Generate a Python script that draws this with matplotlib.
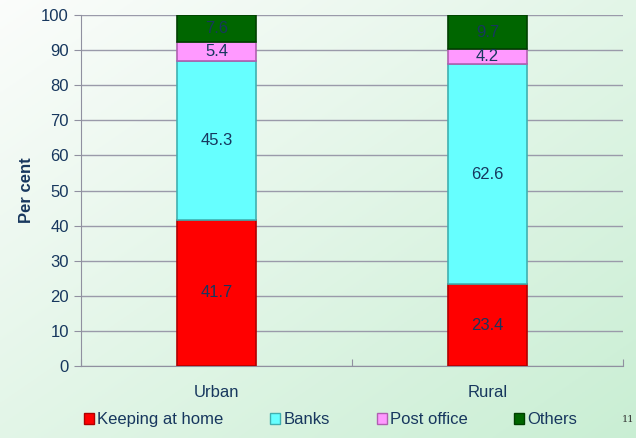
import numpy as np
import matplotlib.pyplot as plt

categories = ['Urban', 'Rural']
series_names = ['Keeping at home', 'Banks', 'Post office', 'Others']
keeping_home = [41.7, 23.4]
banks = [45.3, 62.6]
post_office = [5.4, 4.2]
others = [7.6, 9.7]
yticks = [0, 10, 20, 30, 40, 50, 60, 70, 80, 90, 100]

face_colors = ['#FF0000', '#66FFFF', '#FF99FF', '#006600']
edge_colors = ['#B00000', '#40B0B0', '#B060B0', '#004000']
text_color = '#17375E'

plt.rcParams['font.family'] = ['Liberation Sans', 'DejaVu Sans']

fig = plt.figure(figsize=(6.36, 4.38), dpi=100)

# light green gradient background, white top-left to green bottom-right
bg = fig.add_axes([0, 0, 1, 1], zorder=-10)
yy, xx = np.mgrid[0:1:200j, 0:1:200j]
t = np.clip(0.5 * xx + 0.5 * yy, 0, 1)
c0 = np.array([0.985, 0.99, 0.985])
c1 = np.array([0.79, 0.935, 0.83])
img = c0[None, None, :] * (1 - t[..., None]) + c1[None, None, :] * t[..., None]
bg.imshow(img, extent=[0, 1, 0, 1], aspect='auto', origin='upper')
bg.axis('off')

ax = fig.add_axes([0.127, 0.164, 0.853, 0.802])
ax.patch.set_alpha(0)

x = np.arange(len(categories))
width = 0.29
bottom = np.zeros(len(categories))
for vals, fc, ec in zip([keeping_home, banks, post_office, others], face_colors, edge_colors):
    vals = np.array(vals)
    ax.bar(x, vals, width, bottom=bottom, color=fc, edgecolor=ec, linewidth=1.2, zorder=3)
    for xi, b, v in zip(x, bottom, vals):
        ax.text(xi, b + v / 2, f'{v:.1f}', ha='center', va='center',
                fontsize=12, color=text_color, zorder=4)
    bottom += vals

ax.set_xlim(-0.5, 1.5)
ax.set_ylim(0, 100)
ax.set_yticks(yticks)
ax.set_yticklabels([str(v) for v in yticks], fontsize=12, color=text_color)
ax.set_xticks([-0.5, 0.5, 1.5])
ax.set_xticklabels(['', '', ''])
ax.tick_params(axis='x', length=5, color='#9090A0', direction='in')
ax.tick_params(axis='y', length=5, color='#9090A0')
for xi, c in zip(x, categories):
    ax.text(xi, -7.5, c, ha='center', va='center', fontsize=12, color=text_color)
ax.grid(axis='y', color='#9A9AAA', linewidth=1, zorder=0)
for s in ['top', 'right']:
    ax.spines[s].set_visible(False)
ax.spines['left'].set_color('#9090A0')
ax.spines['bottom'].set_color('#9090A0')
ax.set_ylabel('Per cent', fontsize=12, fontweight='bold', color=text_color, labelpad=5)

handles = [plt.Rectangle((0, 0), 1, 1, facecolor=fc, edgecolor=ec) for fc, ec in zip(face_colors, edge_colors)]
fig.legend(handles, series_names, loc='center', bbox_to_anchor=(0.52, 0.042), ncol=4,
           frameon=False, fontsize=12, labelcolor=text_color, handlelength=0.6,
           handleheight=0.6, handletextpad=0.2, columnspacing=2.8)

fig.text(0.987, 0.042, '11', fontsize=7, family='DejaVu Serif', color='#333333',
         ha='center', va='center')

fig.savefig('out.png', dpi=100)
